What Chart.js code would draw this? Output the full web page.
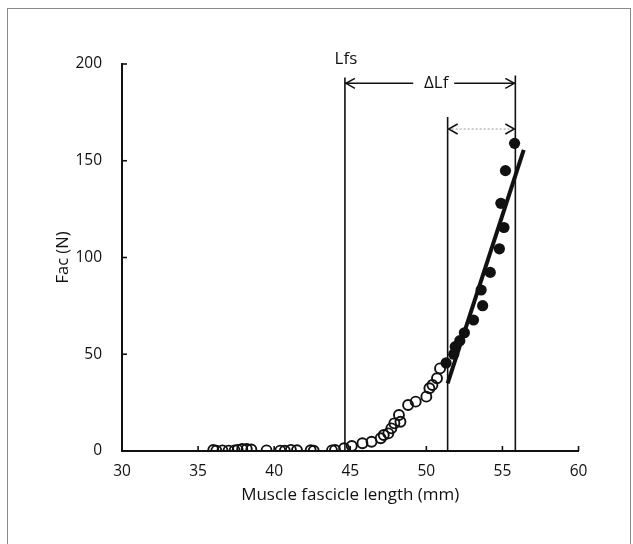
<!DOCTYPE html>
<html>
<head>
<meta charset="utf-8">
<script src="https://cdn.jsdelivr.net/npm/chart.js@4"></script>
<style>
  html, body { margin: 0; padding: 0; background: #fff; }
  #wrap { width: 633px; height: 544px; }
</style>
</head>
<body>
<div id="wrap"><canvas id="facChart" width="633" height="544"></canvas></div>
<script>
// passive (open) points: fascicle length (mm) and Fac (N)
const openX = [36.0, 36.2, 36.6, 37.0, 37.4, 37.6, 37.9, 38.2, 38.5, 39.5, 40.4, 40.7, 41.1, 41.5, 42.4, 42.6, 43.8,
               44.0, 44.6, 45.1, 45.8, 46.4, 47.0, 47.2, 47.5, 47.7, 47.9, 48.2, 48.3, 48.8, 49.3, 50.0, 50.2, 50.4, 50.7, 50.9];
const openY = [0.5, 0.2, 0.3, 0.2, 0.3, 0.6, 1.0, 1.0, 0.8, 0.3, 0.2, 0.1, 0.6, 0.4, 0.4, 0.1, 0.3,
               0.5, 1.4, 2.6, 4.0, 4.8, 6.6, 8.3, 9.1, 11.7, 14.3, 18.6, 15.1, 23.8, 25.5, 28.1, 32.4, 34.1, 37.6, 42.7];

// filled points above the fit start
const fillX = [51.3, 51.8, 51.9, 52.2, 52.5, 53.1, 53.6, 53.7, 54.2, 54.8, 55.1, 54.9, 55.2, 55.8];
const fillY = [45.5, 50.0, 53.9, 57.0, 61.1, 67.7, 83.2, 75.1, 92.3, 104.5, 115.5, 128.0, 144.9, 159.0];

// regression line
const fitX = [51.4, 56.4];
const fitY = [35.0, 155.6];

// vertical markers: Lfs, start of fit, end of ΔLf
const lfsX = 44.65, midX = 51.4, endX = 55.85;
const lfsTop = 193, midTop = 172.6, endTop = 194;
const arrowY = 190, dotArrowY = 166.4, deltaLabelX = 50.65, lfsLabelY = 202.6;

const xTicks = [30, 35, 40, 45, 50, 55, 60];
const yTicks = [0, 50, 100, 150, 200];

const font = "'Open Sans', 'Noto Sans', sans-serif";

function chevron(ctx, x, y, dir) {
  ctx.beginPath();
  ctx.moveTo(x + dir * 9, y - 5);
  ctx.lineTo(x, y);
  ctx.lineTo(x + dir * 9, y + 5);
  ctx.stroke();
}

const extras = {
  id: 'extras',
  beforeDraw(chart) {
    const ctx = chart.ctx;
    ctx.save();
    ctx.strokeStyle = '#8a8a8a';
    ctx.lineWidth = 1;
    ctx.strokeRect(7.5, 8.5, 623, 560);
    ctx.restore();
  },
  afterDraw(chart) {
    const {ctx, scales: {x, y}} = chart;
    ctx.save();
    ctx.strokeStyle = '#111';
    ctx.lineWidth = 1.6;
    // inward ticks
    xTicks.forEach(v => {
      const px = x.getPixelForValue(v);
      ctx.beginPath(); ctx.moveTo(px, y.bottom); ctx.lineTo(px, y.bottom - 5); ctx.stroke();
    });
    yTicks.forEach(v => {
      const py = y.getPixelForValue(v);
      ctx.beginPath(); ctx.moveTo(x.left, py); ctx.lineTo(x.left + 5, py); ctx.stroke();
    });
    // ΔLf arrow
    const ay = y.getPixelForValue(arrowY);
    const x1 = x.getPixelForValue(lfsX), x2 = x.getPixelForValue(endX);
    const xl = x.getPixelForValue(deltaLabelX);
    ctx.lineWidth = 1.5;
    ctx.beginPath();
    ctx.moveTo(x1, ay); ctx.lineTo(xl - 23, ay);
    ctx.moveTo(xl + 18, ay); ctx.lineTo(x2, ay);
    ctx.stroke();
    chevron(ctx, x1 + 1, ay, 1);
    chevron(ctx, x2 - 1, ay, -1);
    ctx.fillStyle = '#111';
    ctx.font = '17px ' + font;
    ctx.textAlign = 'center';
    ctx.textBaseline = 'middle';
    ctx.fillText('\u0394Lf', xl, ay);
    ctx.fillText('Lfs', x1 + 1, y.getPixelForValue(lfsLabelY));
    // dotted arrow
    const dy = y.getPixelForValue(dotArrowY);
    const x3 = x.getPixelForValue(midX);
    ctx.strokeStyle = '#999';
    ctx.lineWidth = 1;
    ctx.setLineDash([2, 2]);
    ctx.beginPath(); ctx.moveTo(x3, dy); ctx.lineTo(x2, dy); ctx.stroke();
    ctx.setLineDash([]);
    ctx.strokeStyle = '#111';
    ctx.lineWidth = 1.5;
    chevron(ctx, x3 + 1, dy, 1);
    chevron(ctx, x2 - 1, dy, -1);
    ctx.restore();
  }
};

const vline = (xv, top) => ({
  type: 'line',
  data: [{x: xv, y: 0}, {x: xv, y: top}],
  borderColor: '#111',
  borderWidth: 1.6,
  pointRadius: 0,
  clip: false
});

new Chart('facChart', {
  type: 'scatter',
  data: {
    datasets: [
      vline(lfsX, lfsTop),
      vline(midX, midTop),
      vline(endX, endTop),
      {
        data: openX.map((v, i) => ({x: v, y: openY[i]})),
        pointRadius: 5,
        pointBorderWidth: 1.9,
        pointBorderColor: '#111',
        pointBackgroundColor: 'rgba(255,255,255,0)'
      },
      {
        data: fillX.map((v, i) => ({x: v, y: fillY[i]})),
        pointRadius: 5.6,
        pointBorderWidth: 0,
        pointBackgroundColor: '#111'
      },
      {
        type: 'line',
        data: fitX.map((v, i) => ({x: v, y: fitY[i]})),
        borderColor: '#111',
        borderWidth: 4,
        pointRadius: 0
      }
    ]
  },
  options: {
    responsive: false,
    animation: false,
    layout: { padding: { left: 50, top: 64, right: 54.5, bottom: 33 } },
    plugins: { legend: { display: false }, tooltip: { enabled: false } },
    scales: {
      x: {
        type: 'linear', min: 30, max: 60,
        afterFit: s => { s.height = 60; },
        afterBuildTicks: s => { s.ticks = xTicks.map(v => ({value: v})); },
        grid: { display: false, drawTicks: false },
        border: { display: true, color: '#111', width: 2 },
        ticks: { padding: 11, color: '#111', font: { family: font, size: 15.5 } },
        title: { display: true, text: 'Muscle fascicle length (mm)', color: '#111',
                 font: { family: font, size: 17 }, padding: { bottom: 6 } }
      },
      y: {
        type: 'linear', min: 0, max: 200,
        afterFit: s => { s.width = 72; },
        afterBuildTicks: s => { s.ticks = yTicks.map(v => ({value: v})); },
        grid: { display: false, drawTicks: false },
        border: { display: true, color: '#111', width: 2 },
        ticks: { padding: 20, color: '#111', font: { family: font, size: 15.5 } },
        title: { display: true, text: 'Fac (N)', color: '#111',
                 font: { family: font, size: 16.5 }, padding: { top: 3 } }
      }
    }
  },
  plugins: [extras]
});
</script>
</body>
</html>
